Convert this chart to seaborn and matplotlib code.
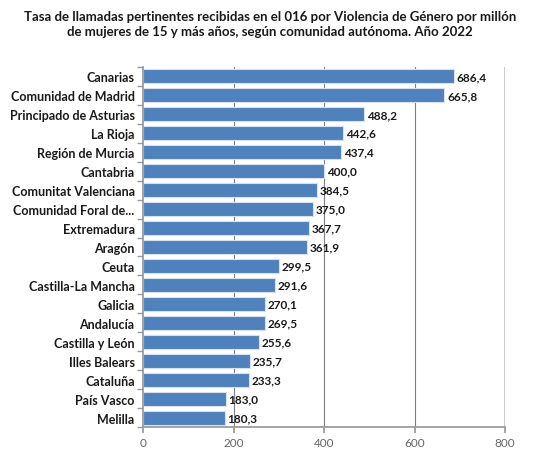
import numpy as np
import pandas as pd
import seaborn as sns
import matplotlib.pyplot as plt
from matplotlib.ticker import FixedLocator

sns.set_theme(style="white")
plt.rcParams['font.family'] = ['Lato', 'DejaVu Sans']

regiones = ['Canarias', 'Comunidad de Madrid', 'Principado de Asturias', 'La Rioja',
            'Región de Murcia', 'Cantabria', 'Comunitat Valenciana', 'Comunidad Foral de...',
            'Extremadura', 'Aragón', 'Ceuta', 'Castilla-La Mancha', 'Galicia', 'Andalucía',
            'Castilla y León', 'Illes Balears', 'Cataluña', 'País Vasco', 'Melilla']
tasas = [686.4, 665.8, 488.2, 442.6, 437.4, 400.0, 384.5, 375.0, 367.7, 361.9,
         299.5, 291.6, 270.1, 269.5, 255.6, 235.7, 233.3, 183.0, 180.3]
xticks = [0, 200, 400, 600, 800]

df = pd.DataFrame({'region': regiones, 'tasa': tasas})

fig = plt.figure(figsize=(5.36, 4.52), dpi=100)
ax = fig.add_axes([0.2668, 0.0531, 0.6754, 0.7965])

sns.barplot(data=df, x='tasa', y='region', orient='h', color='#4F81BD',
            saturation=1, width=0.74, edgecolor='#D6E0EE', linewidth=0.8, ax=ax)

for i, v in enumerate(tasas):
    ax.text(v + 6, i, f'{v:.1f}'.replace('.', ','), va='center', ha='left',
            fontsize=8.5, fontweight='bold', color='#1a1a1a')

ax.set_xlim(0, 800)
ax.set_xticks(xticks)
ax.set_xticklabels([str(t) for t in xticks], fontsize=8.5, color='#666666')
ax.set_ylim(len(regiones) - 0.5, -0.5)
ax.set_xlabel('')
ax.set_ylabel('')
ax.tick_params(axis='y', length=0, labelsize=9, pad=6)
for lbl in ax.get_yticklabels():
    lbl.set_fontweight('bold')
    lbl.set_color('#1a1a1a')
ax.yaxis.set_minor_locator(FixedLocator(np.arange(-0.5, len(regiones), 1)))
ax.tick_params(axis='y', which='minor', length=4, color='#999999', left=True)
ax.tick_params(axis='x', length=4, color='#999999', bottom=True, pad=3)

ax.set_axisbelow(True)
for t in [200, 400, 600]:
    ax.axvline(t, color='#7f7f7f', linewidth=0.8, zorder=0)
ax.axvline(800, color='#c0c0c0', linewidth=1.2, zorder=0)

sns.despine(ax=ax, top=True, right=True)
ax.spines['left'].set_color('#999999')
ax.spines['bottom'].set_color('#999999')

fig.text(0.504, 0.975, 'Tasa de llamadas pertinentes recibidas en el 016 por Violencia de Género por millón\n'
         'de mujeres de 15 y más años, según comunidad autónoma. Año 2022',
         ha='center', va='top', fontsize=9.5, fontweight='bold', color='#1a1a1a', linespacing=1.25)

fig.savefig('out.png', dpi=100)
